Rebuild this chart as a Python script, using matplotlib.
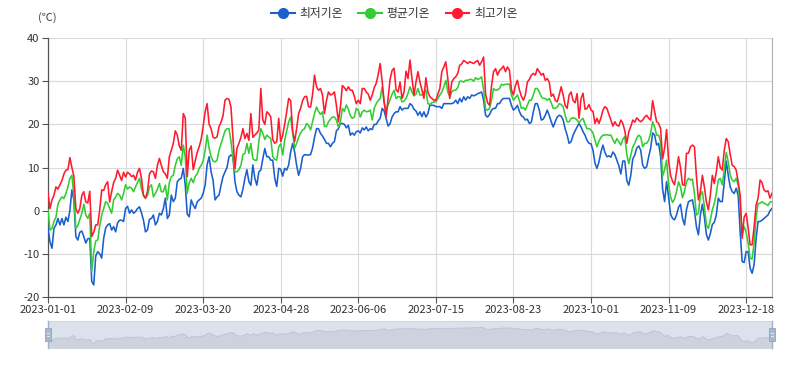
import matplotlib
matplotlib.use('Agg')
import matplotlib.pyplot as plt
from matplotlib.lines import Line2D
from matplotlib.patches import Rectangle
import numpy as np
import pandas as pd

plt.rcParams['font.family'] = ['Noto Sans CJK KR', 'DejaVu Sans']

# ---- data (daily, 2023) ----
start_date = '2023-01-01'
n_days = 365
series_names = ['최저기온', '평균기온', '최고기온']

low_temp = [
    -4.1, -7.2, -8.7, -4.1, -3.3, -1.8, -3.3, -1.8, -3.3, -1.5, -2.5, 0.0, 4.8, 2.5, -6.0, -6.8, -5.0, -4.7, -6.0, -7.5,
    -6.5, -6.4, -16.4, -17.2, -10.5, -9.5, -10.0, -11.0, -6.4, -4.0, -3.3, -3.0, -4.5, -3.7, -4.9, -2.8, -2.2, -2.2, -2.5, 0.5,
    1.0, -0.6, 0.2, -0.6, -0.2, 0.5, 0.9, -0.5, -2.2, -4.9, -4.5, -2.0, -1.8, -1.0, -3.3, -2.5, -0.6,
    -1.0, 0.5, 2.9, -1.8, -1.0, 3.6, 2.1, 2.9, 6.7, 7.3, 7.5, 9.8, 6.0, -0.8, -1.4, 2.5, 1.3, 0.5, 2.0, 2.5,
    2.9, 4.0, 5.9, 10.6, 12.5, 9.0, 7.0, 2.5, 3.2, 3.6, 5.9, 7.9, 9.0, 10.0, 12.5, 12.9, 12.5, 6.7, 4.4, 3.6,
    3.2, 5.0, 7.5, 9.5, 6.7, 5.9, 10.6, 7.5, 5.9, 9.0, 9.4, 12.0, 14.4, 12.5, 12.5, 11.7, 11.7, 7.5, 5.6, 9.8,
    9.6, 8.0, 9.8, 9.4, 10.6, 13.6, 15.6, 13.6, 10.5, 8.2, 9.8, 12.5, 13.0, 12.9, 12.9, 13.0, 14.5, 17.0, 19.0, 19.0,
    17.9, 17.3, 16.5, 15.6, 15.6, 14.8, 15.6, 16.0, 18.5, 19.0, 20.2, 20.2, 20.0, 19.2, 19.8, 17.5, 18.0, 17.5, 18.3, 18.5,
    18.0, 19.2, 18.7, 19.4, 18.5, 19.0, 18.8, 20.0, 20.0, 20.8, 21.4, 23.7, 23.1, 21.4, 19.6, 20.2, 21.7, 22.5, 22.9, 22.9,
    24.1, 23.3, 23.7, 23.7, 23.7, 24.8, 24.4, 23.5, 23.1, 22.1, 22.9, 21.8, 22.9, 21.7, 22.5, 24.5, 24.4, 24.4, 24.1, 24.1,
    24.1, 23.7, 24.8, 24.8, 24.8, 24.8, 24.8, 25.0, 25.6, 24.8, 26.0, 25.2, 26.4, 25.6, 26.4, 26.0, 26.8, 26.6, 26.8, 27.1,
    27.3, 27.5, 25.6, 22.1, 21.7, 22.3, 23.3, 23.7, 23.7, 24.8, 24.8, 25.6, 26.0, 26.0, 26.0, 26.0, 24.4, 23.3, 23.7, 24.4,
    23.0, 22.0, 21.7, 21.0, 21.2, 20.2, 20.5, 22.9, 24.8, 24.8, 23.3, 21.0, 21.2, 22.1, 23.3, 22.1, 20.6, 19.4, 20.6, 21.7,
    22.1, 21.9, 21.0, 19.0, 17.5, 15.6, 16.0, 17.5, 18.5, 19.4, 20.2, 19.4, 18.3, 17.5, 16.3, 15.6, 15.5, 14.0, 11.0, 9.8,
    11.3, 13.6, 15.2, 13.5, 12.5, 12.7, 12.4, 13.6, 13.0, 11.7, 10.4, 8.5, 11.5, 11.5, 7.0, 5.9, 8.2, 12.0, 12.9, 14.5, 15.0,
    14.0, 10.5, 9.8, 10.2, 12.5, 14.5, 18.0, 17.5, 15.2, 15.6, 12.5, 5.0, 2.1, 6.7, 3.2, -0.8, -1.8, -2.1, -1.0, 0.8,
    1.5, -1.8, -3.3, 0.2, 2.1, 2.3, 2.5, 0.0, -3.7, -5.6, -1.0, 1.5, -1.5, -5.5, -6.8, -5.3, -3.2, -2.7, -1.0, 2.9,
    2.1, 2.1, 6.5, 11.5, 8.2, 5.5, 4.4, 4.0, 5.2, 3.5, -4.9, -11.8, -12.0, -9.5, -9.5, -13.3, -14.5, -12.5, -6.5, -2.5,
    -2.5, -2.2, -1.8, -1.4, -1.0, 0.0, 0.5,
]

avg_temp = [
    0.2, -4.5, -4.1, -2.5, -1.5, 1.5, 2.5, 3.2, 2.8, 4.0, 5.5, 7.5, 8.2, 3.5, -4.1, -3.5, -2.0, -0.6, 1.5, -1.0,
    -1.8, -0.6, -14.1, -9.5, -7.0, -6.8, -3.5, -1.0, 0.5, 2.1, 1.7, 0.5, -0.6, 2.5, 3.2, 4.0, 3.6, 2.5, 4.0, 6.0,
    5.0, 5.5, 5.2, 4.4, 5.5, 6.5, 7.5, 5.0, 3.6, 2.9, 3.5, 5.5, 6.0, 3.2, 4.0, 5.0, 6.3,
    4.4, 4.4, 5.9, 2.5, 6.5, 7.9, 8.2, 10.5, 12.0, 12.5, 10.5, 15.2, 12.5, 4.0, 6.5, 7.5, 6.5, 7.9, 8.5, 9.8,
    10.5, 11.5, 14.0, 17.5, 14.5, 12.5, 11.5, 11.3, 11.7, 14.0, 15.5, 17.0, 18.5, 19.0, 19.0, 16.0, 12.0, 9.0, 9.0, 9.5,
    10.5, 13.0, 13.3, 15.6, 13.3, 15.6, 12.0, 11.7, 11.7, 16.0, 19.0, 17.9, 16.5, 17.5, 17.1, 16.7, 12.5, 11.9, 11.7, 14.8,
    15.5, 12.9, 16.3, 18.5, 20.6, 21.7, 18.0, 14.5, 15.6, 17.0, 18.0, 18.7, 19.0, 20.2, 19.8, 18.7, 20.6, 22.5, 24.0, 23.0,
    22.3, 22.9, 19.5, 19.5, 20.6, 21.2, 21.7, 21.7, 21.0, 19.4, 20.6, 23.7, 23.0, 24.5, 23.5, 22.0, 21.4, 21.7, 23.7, 23.3,
    21.7, 22.9, 23.3, 22.9, 23.0, 23.3, 21.0, 23.7, 24.8, 25.5, 26.0, 28.7, 25.0, 23.3, 24.5, 25.8, 27.0, 27.9, 26.0, 26.4,
    26.4, 25.2, 25.4, 26.0, 27.2, 28.7, 27.5, 26.6, 27.0, 28.3, 26.8, 26.8, 27.5, 27.9, 24.8, 24.6, 25.0, 25.2, 25.2, 26.0,
    26.8, 27.5, 28.7, 30.2, 27.5, 26.4, 27.5, 27.9, 27.9, 28.5, 30.0, 30.0, 29.8, 30.2, 30.2, 30.4, 30.4, 30.0, 30.8, 30.4,
    30.6, 31.0, 28.0, 23.5, 23.3, 23.7, 25.6, 28.3, 27.9, 28.0, 28.3, 29.3, 29.1, 29.3, 29.3, 29.3, 26.8, 25.6, 26.2, 26.8,
    25.5, 23.7, 23.9, 23.3, 24.4, 25.6, 25.6, 26.8, 28.3, 28.3, 27.5, 26.4, 26.0, 26.0, 25.6, 26.0, 25.0, 23.7, 23.7, 24.0,
    24.8, 24.6, 24.1, 22.1, 20.6, 20.6, 21.4, 21.5, 21.4, 21.0, 20.4, 21.0, 21.4, 20.0, 19.0, 19.0, 18.7, 18.0, 16.3, 14.8,
    16.1, 17.0, 17.5, 17.5, 17.6, 17.5, 17.5, 16.5, 15.6, 16.7, 16.0, 15.2, 16.5, 17.2, 13.0, 10.9, 12.9, 14.8, 15.6, 16.8, 17.5,
    17.1, 14.8, 15.6, 15.6, 16.3, 18.0, 20.6, 19.4, 17.5, 17.5, 16.0, 8.0, 9.5, 11.7, 6.0, 3.2, 1.9, 2.7, 4.4, 6.7,
    5.5, 3.0, 4.5, 6.7, 7.5, 7.1, 7.3, 4.0, -1.0, -0.6, 3.6, 4.4, 1.0, -3.3, -4.1, -2.2, 0.2, 1.7, 4.0, 7.1,
    7.5, 6.0, 9.5, 13.5, 11.3, 8.2, 7.1, 6.7, 7.5, 5.9, 1.3, -5.6, -3.7, -5.0, -7.5, -11.0, -11.2, -7.5, -1.5, 1.7,
    1.7, 2.1, 1.7, 1.5, 1.2, 2.0, 2.1,
]

high_temp = [
    4.0, 0.5, 2.5, 3.6, 5.5, 5.0, 6.0, 7.0, 8.5, 9.4, 9.5, 12.3, 10.0, 8.0, 0.5, -0.6, 0.5, 3.5, 4.4, 2.0,
    1.8, 4.5, -6.0, -5.0, -3.3, -3.3, 0.2, 4.8, 4.7, 6.0, 6.7, 2.0, 4.4, 6.5, 7.5, 9.4, 8.2, 7.0, 8.9, 7.8,
    8.9, 8.5, 7.9, 8.2, 7.1, 8.9, 9.8, 7.5, 3.5, 2.9, 4.4, 8.5, 9.2, 9.0, 7.5, 10.5, 12.1,
    10.5, 9.0, 8.5, 7.5, 12.5, 14.0, 15.6, 18.5, 17.5, 15.0, 14.0, 22.5, 21.5, 7.9, 14.0, 15.0, 9.5, 11.5, 13.5, 14.8,
    16.5, 19.5, 22.9, 24.8, 20.0, 19.0, 17.0, 16.8, 17.1, 19.5, 20.5, 22.0, 25.6, 26.0, 25.8, 24.0, 17.0, 9.8, 14.5, 15.6,
    17.0, 19.0, 16.7, 17.9, 16.3, 22.5, 17.0, 17.5, 18.0, 18.7, 28.3, 21.0, 20.0, 22.9, 22.5, 21.7, 16.5, 15.6, 16.0, 21.4,
    16.0, 17.5, 20.0, 22.9, 26.0, 25.5, 18.5, 16.0, 19.0, 22.5, 23.7, 25.5, 26.4, 26.5, 24.1, 24.0, 26.8, 31.4, 28.7, 27.9,
    28.3, 26.8, 22.5, 25.5, 27.5, 26.8, 27.0, 27.5, 24.4, 20.6, 24.0, 29.0, 28.5, 27.8, 28.7, 27.9, 27.9, 26.5, 24.8, 25.6,
    24.8, 28.3, 28.3, 27.5, 27.0, 25.6, 26.8, 28.5, 29.5, 31.5, 34.1, 30.0, 25.2, 21.7, 26.0, 30.5, 32.5, 33.0, 28.0, 27.5,
    29.8, 26.0, 27.5, 32.3, 30.6, 34.9, 30.6, 26.8, 29.8, 32.2, 29.8, 28.0, 26.0, 30.8, 27.5, 26.4, 26.0, 25.6, 25.6, 27.0,
    28.3, 32.2, 33.3, 34.5, 30.6, 26.0, 29.8, 30.6, 31.0, 31.8, 33.7, 34.0, 34.8, 34.5, 34.1, 34.5, 34.3, 34.1, 34.5, 34.8,
    33.7, 34.5, 35.6, 27.0, 25.0, 24.4, 29.0, 32.2, 32.9, 31.4, 32.5, 32.9, 33.5, 32.2, 33.3, 32.5, 28.0, 26.8, 29.0, 30.2,
    28.0, 26.5, 25.6, 26.8, 29.8, 30.4, 31.4, 31.8, 31.4, 32.9, 32.2, 31.4, 31.8, 30.2, 30.6, 29.8, 26.5, 27.0, 25.6, 25.2,
    26.8, 28.7, 26.8, 24.4, 23.7, 26.8, 27.5, 25.5, 25.0, 27.1, 21.4, 26.0, 27.2, 23.5, 23.7, 24.6, 23.3, 23.0, 20.2, 21.4,
    20.2, 21.5, 23.3, 24.1, 23.7, 22.3, 21.0, 19.6, 20.6, 19.8, 19.6, 21.0, 20.2, 18.5, 15.6, 18.3, 19.5, 21.0, 20.5, 21.5, 21.0,
    20.6, 21.0, 21.7, 22.1, 21.4, 21.0, 25.5, 22.9, 20.6, 20.2, 19.0, 12.0, 14.5, 18.8, 11.7, 8.2, 6.8, 6.0, 9.0, 12.5,
    10.0, 6.0, 5.9, 13.3, 13.3, 14.8, 15.2, 14.8, 8.0, 2.5, 4.4, 8.2, 5.5, 2.1, 0.2, 3.6, 8.2, 6.3, 9.0, 12.5,
    10.0, 9.4, 14.0, 16.7, 16.0, 13.0, 10.5, 10.2, 9.4, 6.7, 3.6, -6.4, -1.5, -0.6, -4.0, -7.9, -7.9, -3.8, 1.3, 2.9,
    7.1, 6.5, 4.8, 4.4, 4.6, 2.9, 4.0,
]

y_ticks = [-20, -10, 0, 10, 20, 30, 40]
x_tick_step = 39

BLUE = '#1a5fcc'
GREEN = '#33cc33'
RED = '#ff1a2e'

dates = pd.date_range(start_date, periods=n_days)
low = np.array(low_temp)
avg = np.array(avg_temp)
high = np.array(high_temp)

fig = plt.figure(figsize=(8, 3.67), dpi=100)
ax = fig.add_axes([0.06, 0.1907, 0.905, 0.7057])

ax.plot(dates, low, color=BLUE, lw=1.15, zorder=3)
ax.plot(dates, avg, color=GREEN, lw=1.15, zorder=3)
ax.plot(dates, high, color=RED, lw=1.15, zorder=3)

ax.set_xlim(dates[0], dates[-1])
ax.set_ylim(-20, 40)
ax.set_yticks(y_ticks)
ax.set_yticklabels([str(v) for v in y_ticks])
tick_dates = dates[::x_tick_step]
ax.set_xticks(tick_dates)
ax.set_xticklabels([d.strftime('%Y-%m-%d') for d in tick_dates])
ax.grid(True, color='#d9d9d9', lw=0.8, zorder=0)
ax.set_axisbelow(True)
for s in ['left', 'bottom']:
    ax.spines[s].set_color('#555555')
    ax.spines[s].set_linewidth(0.9)
ax.spines['top'].set_visible(False)
ax.spines['right'].set_color('#b0b0b0')
ax.spines['right'].set_linewidth(0.8)
ax.tick_params(axis='both', labelsize=8, colors='#555555', labelcolor='#333333', length=4, width=0.8, pad=2)

fig.text(0.059, 0.952, '(℃)', ha='center', va='center', fontsize=8, color='#444444')

handles = [Line2D([], [], color=c, lw=1.5, marker='o', markersize=7) for c in (BLUE, GREEN, RED)]
fig.legend(handles, series_names, loc='center', bbox_to_anchor=(0.493, 0.962), ncol=3, frameon=False,
           fontsize=8.5, handlelength=2.0, handletextpad=0.4, columnspacing=1.3, labelcolor='#333333')

# data zoom slider
ax2 = fig.add_axes([0.06, 0.0518, 0.905, 0.0736])
ax2.set_facecolor('#dce2eb')
floor = -40
ax2.fill_between(dates, low, floor, color='#cdd3dd', lw=0.7, edgecolor='#bfc6d1')
ax2.set_xlim(dates[0], dates[-1])
ax2.set_ylim(-31, 44)
ax2.set_xticks([])
ax2.set_yticks([])
for s in ax2.spines.values():
    s.set_color('#d0d7e2')
    s.set_linewidth(0.8)
for xpos in (0.0, 1.0):
    ax2.plot([xpos, xpos], [0, 1], transform=ax2.transAxes, color='#a3b2c6', lw=1.0, clip_on=False, zorder=4)
    ax2.add_patch(Rectangle((xpos - 0.0045, 0.26), 0.009, 0.48, transform=ax2.transAxes,
                            facecolor='#a8b8cd', edgecolor='#93a5bd', lw=0.6, clip_on=False, zorder=5))
    for yy in (0.44, 0.56):
        ax2.plot([xpos - 0.002, xpos + 0.002], [yy, yy], transform=ax2.transAxes, color='#eef2f7',
                 lw=0.6, clip_on=False, zorder=6)

fig.savefig('out.png', dpi=100)
